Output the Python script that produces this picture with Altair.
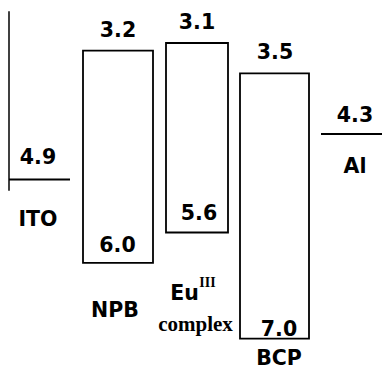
import altair as alt
import pandas as pd

# ---- data (energy levels in eV) ----
layer_names = ["NPB", "Eu", "BCP"]
lumo = [3.2, 3.1, 3.5]
homo = [6.0, 5.6, 7.0]
electrode_names = ["ITO", "Al"]
work_fn = [4.9, 4.3]
ito_wall = [2.68, 5.05]  # extent of the ITO vertical line (eV)

# ---- layout (pixel columns on a 0..382 x scale) ----
box_x0 = [83, 166, 240]
box_x1 = [153, 228, 309]
box_cx = [118, 197, 275]
homo_cx = [117.5, 199, 279]
homo_dy = [-11, -13, -3]
lumo_dy = [-14, -14, -14]
el_x0 = [9, 321]
el_x1 = [70, 382]
el_cx = [38, 355]
el_val_dy = [-15, -12]
el_name_dy = [47, 39]

W, H = 382, 371
SANS = "DejaVu Sans"
SERIF = "Liberation Serif"
FS = 20.5

xs = alt.Scale(domain=[0, W], range=[0, W])
ys = alt.Scale(domain=[2.533, 7.427], reverse=True)

boxes = pd.DataFrame({"name": layer_names, "lumo": lumo, "homo": homo,
                      "x0": box_x0, "x1": box_x1})
box_layer = alt.Chart(boxes).mark_rect(fill=None, stroke="black", strokeWidth=1.8).encode(
    x=alt.X("x0:Q", scale=xs, axis=None),
    x2="x1:Q",
    y=alt.Y("lumo:Q", scale=ys, axis=None),
    y2="homo:Q",
)

els = pd.DataFrame({"name": electrode_names, "wf": work_fn, "x0": el_x0, "x1": el_x1})
el_layer = alt.Chart(els).mark_rule(stroke="black", strokeWidth=2).encode(
    x=alt.X("x0:Q", scale=xs, axis=None),
    x2="x1:Q",
    y=alt.Y("wf:Q", scale=ys, axis=None),
)

wall = pd.DataFrame({"x": [el_x0[0]], "e0": [ito_wall[0]], "e1": [ito_wall[1]]})
wall_layer = alt.Chart(wall).mark_rule(stroke="black", strokeWidth=1.5).encode(
    x=alt.X("x:Q", scale=xs, axis=None),
    y=alt.Y("e0:Q", scale=ys, axis=None),
    y2="e1:Q",
)

texts = []


def label(txt, x, e, dy, font=SANS, size=FS, bold=True):
    df = pd.DataFrame({"t": [txt], "x": [x], "e": [e]})
    return alt.Chart(df).mark_text(
        font=font, fontSize=size, fontWeight="bold" if bold else "normal",
        baseline="alphabetic", align="center", dy=dy, color="black",
    ).encode(
        x=alt.X("x:Q", scale=xs, axis=None),
        y=alt.Y("e:Q", scale=ys, axis=None),
        text="t:N",
    )


for i in range(3):
    texts.append(label(f"{lumo[i]:.1f}", box_cx[i], lumo[i], lumo_dy[i]))
    texts.append(label(f"{homo[i]:.1f}", homo_cx[i], homo[i], homo_dy[i]))

for i in range(2):
    texts.append(label(f"{work_fn[i]:.1f}", el_cx[i], work_fn[i], el_val_dy[i]))
    texts.append(label(electrode_names[i], el_cx[i], work_fn[i], el_name_dy[i]))

# layer names below the boxes
texts.append(label("NPB", 115, homo[0], 54))
texts.append(label("BCP", 279, homo[2], 26))
texts.append(label("Eu", 184.5, homo[1], 67))
texts.append(label("III", 207.5, homo[1], 54, font=SERIF, size=14))
texts.append(label("complex", 195.5, homo[1], 98, font=SERIF, size=21))

chart = alt.layer(wall_layer, el_layer, box_layer, *texts).properties(
    width=W, height=H, autosize=alt.AutoSizeParams(type="none"), padding=0,
).configure_view(stroke=None)

chart.save("out.html", embed_options={"renderer": "svg", "actions": False})
